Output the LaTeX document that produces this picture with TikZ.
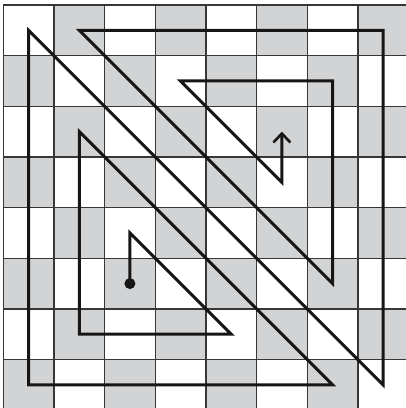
\documentclass[tikz,border=0pt]{standalone}
\usetikzlibrary{arrows.meta}
\definecolor{cellgray}{RGB}{209,211,212}
\definecolor{gridline}{RGB}{55,55,55}
\definecolor{pathcol}{RGB}{22,22,22}
\begin{document}
\begin{tikzpicture}[x=1pt,y=1pt,
  gridstyle/.style={draw=gridline,line width=1.3pt},
  tour/.style={draw=pathcol,line width=3pt,miter limit=10},
  startdot/.style={circle,fill=pathcol,inner sep=0pt,minimum size=11pt}]
\useasboundingbox (0,0) rectangle (406,-408);
\def\ox{3.3}\def\oy{5}\def\cs{50.65}
\begin{scope}
\clip (0,0) rectangle (406,-408);
\foreach \i in {0,...,7}{
  \foreach \j in {0,...,7}{
    \pgfmathtruncatemacro{\myparity}{mod(\i+\j,2)}
    \ifnum\myparity=1
      \fill[cellgray] ({\ox+\cs*\i},{-\oy-\cs*\j}) rectangle ++(\cs,-\cs);
    \fi
  }
}
\foreach \k in {0,...,8}{
  \draw[gridstyle] ({\ox+\cs*\k},{-\oy}) -- ({\ox+\cs*\k},{-\oy-8*\cs});
  \draw[gridstyle] ({\ox},{-\oy-\cs*\k}) -- ({\ox+8*\cs},{-\oy-\cs*\k});
}
\end{scope}
\foreach \i in {0,...,7}{
  \foreach \j in {0,...,7}{
    \coordinate (c-\i-\j) at ({\ox+\cs*(\i+0.5)},{-\oy-\cs*(\j+0.5)});
  }
}
\node[startdot] (start) at (c-2-5) {};
\draw[tour,-{Straight Barb[length=9pt,width=17pt,line width=2.6pt]}]
  (c-2-5) -- (c-2-4) -- (c-4-6) -- (c-1-6) -- (c-1-2) -- (c-6-7) -- (c-0-7)
  -- (c-0-0) -- (c-7-7) -- (c-7-0) -- (c-1-0) -- (c-6-5) -- (c-6-1)
  -- (c-3-1) -- (c-5-3) -- (c-5-2);
\end{tikzpicture}
\end{document}
